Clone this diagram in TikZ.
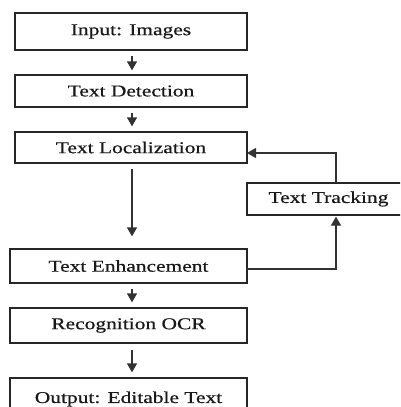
\documentclass[tikz,border=0pt]{standalone}
\usepackage{fontspec}
\newfontfamily\tnr[FakeStretch=1.3,FakeBold=0.6]{Liberation Serif}
\usetikzlibrary{arrows.meta}
\begin{document}
\begin{tikzpicture}[x=1pt,y=-1pt,
  box/.style={draw=black!85, line width=1.3pt, inner sep=0pt, font=\tnr\fontsize{16.5}{18}\selectfont, text=black!90},
  conn/.style={draw=black!80, line width=1.3pt},
  arr/.style={conn, -{Triangle[length=9pt,width=10pt]}}]
\clip (0,0) rectangle (400,407);
\useasboundingbox (0,0) rectangle (400,407);
\node[box, minimum width=232pt, minimum height=37pt] (inp) at (131,31.5) {Input: Images};
\node[box, minimum width=232pt, minimum height=32pt] (det) at (131,91) {Text Detection};
\node[box, minimum width=232pt, minimum height=31pt] (loc) at (131,147.5) {Text Localization};
\node[box, minimum width=163pt, minimum height=32pt] (trk) at (328.5,199) {Text Tracking};
\node[box, minimum width=237pt, minimum height=34pt] (enh) at (128.5,266) {Text Enhancement};
\node[box, minimum width=237pt, minimum height=35pt] (ocr) at (128.5,325.5) {Recognition OCR};
\node[box, minimum width=237pt, minimum height=42pt] (out) at (128.5,399) {Output: Editable Text};
\coordinate (ax) at (132,0);
\coordinate (tx) at (336,0);
\coordinate (fb) at (247,153);
\coordinate (eo) at (247,269);
\draw[arr, shorten <=5pt, shorten >=4pt] (inp.south -| ax) -- (det.north -| ax);
\draw[arr, shorten <=5pt, shorten >=5pt] (det.south -| ax) -- (loc.north -| ax);
\draw[arr, shorten <=5pt, shorten >=12pt] (loc.south -| ax) -- (enh.north -| ax);
\draw[arr, shorten <=5pt, shorten >=5pt] (enh.south -| ax) -- (ocr.north -| ax);
\draw[arr, shorten <=6pt, shorten >=5pt] (ocr.south -| ax) -- (out.north -| ax);
\draw[arr] (trk.north -| tx) |- (fb);
\draw[arr, shorten >=1pt] (eo) -| (trk.south -| tx);
\end{tikzpicture}
\end{document}
